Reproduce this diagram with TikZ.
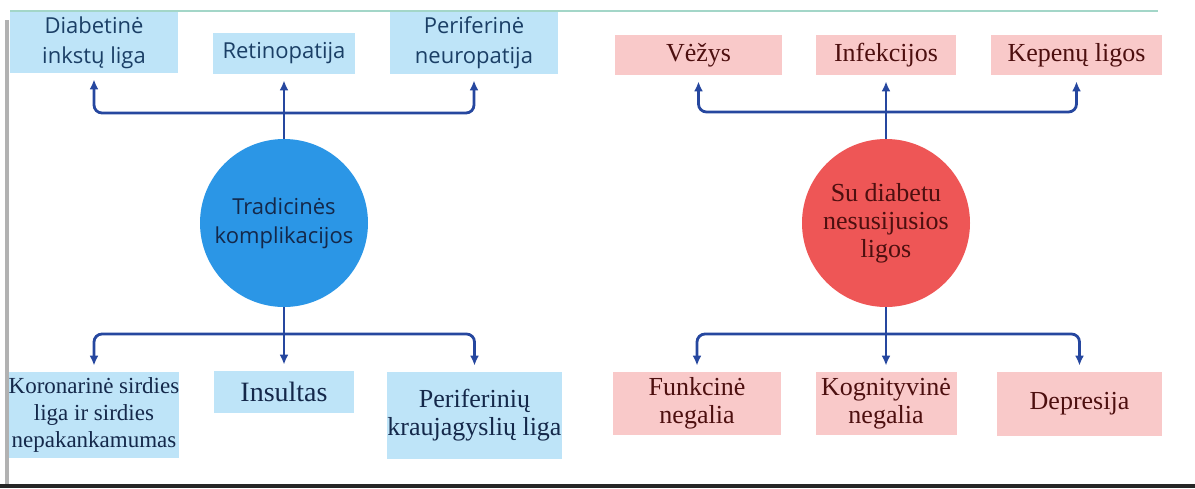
\documentclass[tikz,border=0pt]{standalone}
\usepackage{fontspec}
\setmainfont{Liberation Serif}
\newfontfamily\segoe{Open Sans}
\usetikzlibrary{arrows.meta,positioning,calc}

\definecolor{boxblue}{HTML}{BEE4F8}
\definecolor{circblue}{HTML}{2B96E6}
\definecolor{boxpink}{HTML}{F9C9C9}
\definecolor{circred}{HTML}{EE5656}
\definecolor{linkblue}{HTML}{26479F}
\definecolor{inkblue}{HTML}{1B3F66}
\definecolor{inknavy}{HTML}{14284A}
\definecolor{inkred}{HTML}{4D0F0F}
\definecolor{rimteal}{HTML}{A3D6C8}

\begin{document}
\begin{tikzpicture}[x=0.5pt, y=-0.5pt, node distance=0pt]
    \tikzset{
      bluebox/.style={fill=boxblue, inner sep=0pt, align=center, text=inkblue,
                      font=\segoe\fontsize{11}{15}\selectfont},
      bluebox serif/.style={bluebox, text=inknavy},
      pinkbox/.style={fill=boxpink, inner sep=0pt, align=center, text=inkred,
                      font=\fontsize{13}{14}\selectfont},
      hub/.style={circle, minimum size=84pt, inner sep=0pt, align=center},
      link/.style={draw=linkblue, line width=1.4pt, rounded corners=4pt},
      arr/.style={link, -{Latex[length=5pt,width=4.5pt]}, shorten >=3pt},
    }
    \useasboundingbox (0,0) rectangle (1195,488);
    % frame of the page
    \draw[rimteal, line width=0.8pt] (10,11) -- (1158,11);
    \fill[black!30] (5,20) rectangle (9,484);
    \fill[black!85] (0,484) rectangle (1195,488);

    % left: traditional complications
    \node[bluebox, minimum width=84pt, minimum height=30.5pt] (dil) at (94,42.5) {Diabetinė\\inkstų liga};
    \node[bluebox, minimum width=71pt, minimum height=20.5pt] (ret) at (284,53.5) {Retinopatija};
    \node[bluebox, minimum width=84pt, minimum height=31pt] (pn) at (474,43) {Periferinė\\neuropatija};
    \node[hub, fill=circblue, text=inknavy, font=\segoe\fontsize{11}{14.5}\selectfont] (trad) at (284,223) {Tradicinės\\komplikacijos};
    \node[bluebox serif, minimum width=84pt, minimum height=43pt,
          font=\fontsize{11.5}{13.5}\selectfont] (kor) at (94,415) {Koronarinė sirdies\\liga ir sirdies\\nepakankamumas};
    \node[bluebox serif, minimum width=70pt, minimum height=21pt,
          font=\fontsize{14}{16}\selectfont] (ins) at (284,392) {Insultas};
    \node[bluebox serif, minimum width=84.5pt, minimum height=43.5pt,
          font=\fontsize{13}{14}\selectfont] (pkl) at (474.5,415.5) {Periferinių\\kraujagyslių liga};

    \coordinate (tup) at (284,113);
    \coordinate (tdn) at (284,334);
    \draw[link] (trad.north) -- (tup);
    \draw[arr] (tup) -| (dil.south);
    \draw[arr] (tup) -- (ret.south);
    \draw[arr] (tup) -| (pn.south);
    \draw[link] (trad.south) -- (tdn);
    \draw[arr] (tdn) -| (kor.north);
    \draw[arr] (tdn) -- (ins.north);
    \draw[arr] (tdn) -| (pkl.north);

    % right: diseases not linked to diabetes
    \node[pinkbox, minimum width=83.5pt, minimum height=20pt] (vez) at (698.5,55) {Vėžys};
    \node[pinkbox, minimum width=70pt, minimum height=20pt] (inf) at (886,55) {Infekcijos};
    \node[pinkbox, minimum width=85.5pt, minimum height=20pt] (kep) at (1076.5,55) {Kepenų ligos};
    \node[hub, fill=circred, text=inkred, font=\fontsize{13}{14}\selectfont] (nesus) at (886,223) {Su diabetu\\nesusijusios\\ligos};
    \node[pinkbox, minimum width=84pt, minimum height=31.5pt] (fun) at (697,403.5) {Funkcinė\\negalia};
    \node[pinkbox, minimum width=70.5pt, minimum height=31.5pt] (kog) at (886,403.5) {Kognityvinė\\negalia};
    \node[pinkbox, minimum width=82.5pt, minimum height=32pt] (dep) at (1079.5,404) {Depresija};

    \coordinate (nup) at (886,112);
    \coordinate (ndn) at (886,334);
    \draw[link] (nesus.north) -- (nup);
    \draw[arr] (nup) -| (vez.south);
    \draw[arr] (nup) -- (inf.south);
    \draw[arr] (nup) -| (kep.south);
    \draw[link] (nesus.south) -- (ndn);
    \draw[arr] (ndn) -| (fun.north);
    \draw[arr] (ndn) -- (kog.north);
    \draw[arr] (ndn) -| (dep.north);
\end{tikzpicture}
\end{document}
